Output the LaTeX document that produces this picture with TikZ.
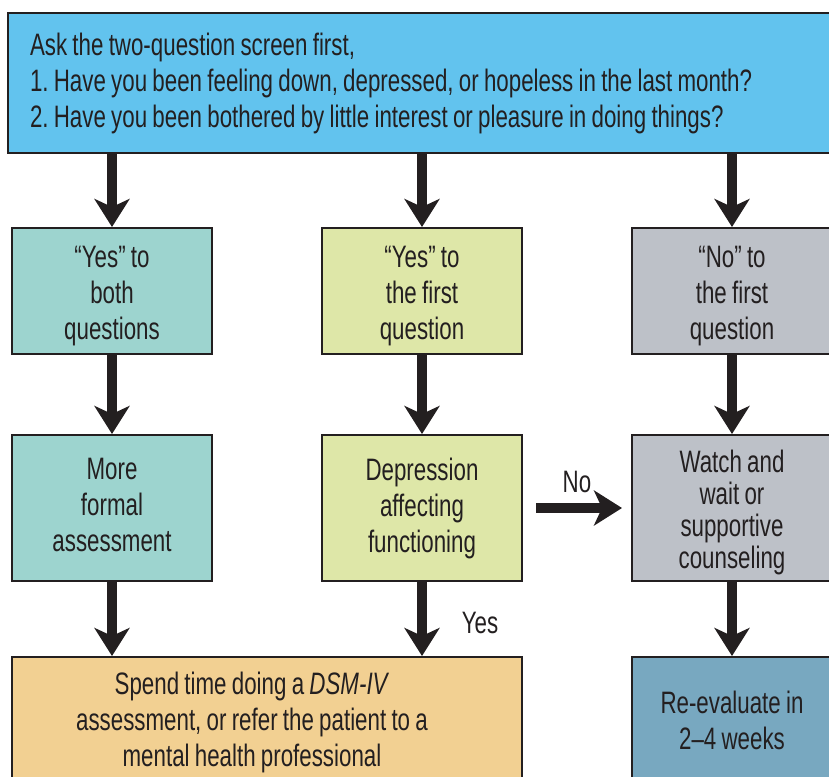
\documentclass[tikz,border=0pt]{standalone}
\usepackage{fontspec}
\setmainfont[FakeStretch=0.72, WordSpace=0.85]{Liberation Sans}
\usetikzlibrary{arrows.meta}
\definecolor{screenblue}{RGB}{98,195,238}
\definecolor{bothteal}{RGB}{157,212,207}
\definecolor{firstgreen}{RGB}{222,231,168}
\definecolor{nogrey}{RGB}{189,193,200}
\definecolor{dsmorange}{RGB}{242,208,146}
\definecolor{reevalblue}{RGB}{120,168,192}
\definecolor{inkc}{RGB}{35,31,32}
\newcommand{\padtop}{\rule{0pt}{16pt}}
\newcommand{\padbot}{\rule[-3pt]{0pt}{0pt}}
\frenchspacing
\begin{document}
\begin{tikzpicture}[x=0.5pt,y=-0.5pt,
  box/.style={draw=inkc, line width=1pt, minimum width=100pt, inner sep=0pt, align=center, text=inkc, font=\fontsize{15.5}{18}\selectfont},
  flow/.style={draw=inkc, line width=5pt, -{Stealth[length=14pt,width=17.5pt,inset=4pt]}},
  lbl/.style={text=inkc, font=\fontsize{15.5}{18}\selectfont}]
\useasboundingbox (0,0) rectangle (829,776);
\clip (0,0) rectangle (829,776);
% screening questions
\node[box, fill=screenblue, minimum width=416pt, minimum height=70pt, text width=394pt, align=flush left] (screen) at (424,83) {Ask the two-question screen first,\\1. Have you been feeling down, depressed, or hopeless in the last month?\\2. Have you been bothered by little interest or pleasure in doing things?};
% answers
\node[box, fill=bothteal, minimum height=63pt] (yesboth) at (112,291) {\padtop``Yes'' to\\both\\questions};
\node[box, fill=firstgreen, minimum height=63pt] (yesfirst) at (422,291) {\padtop``Yes'' to\\the first\\question};
\node[box, fill=nogrey, minimum height=63pt] (nofirst) at (732,291) {\padtop``No'' to\\the first\\question};
\draw[flow] (screen.south -| yesboth.north) -- (yesboth);
\draw[flow] (screen.south -| yesfirst.north) -- (yesfirst);
\draw[flow] (screen.south -| nofirst.north) -- (nofirst);
% next step
\node[box, fill=bothteal, minimum height=73pt] (formal) at (112,508) {More\\formal\\assessment\padbot};
\node[box, fill=firstgreen, minimum height=73pt] (affect) at (422,508) {Depression\\affecting\\functioning};
\node[box, fill=nogrey, minimum height=73pt, font=\fontsize{15.5}{16}\selectfont] (watch) at (732,508) {\padtop Watch and\\wait or\\supportive\\counseling};
\draw[flow] (yesboth) -- (formal);
\draw[flow] (yesfirst) -- (affect);
\draw[flow] (nofirst) -- (watch);
\draw[flow, shorten <=6.5pt, shorten >=4.5pt] (affect) -- (watch);
\node[lbl] (no) at (577,482) {No};
% outcome
\node[box, fill=dsmorange, minimum width=255pt, minimum height=65pt, execute at begin node={\hspace*{-15pt}}] (dsm) at (267,722) {Spend time doing a \textit{DSM-IV}\\assessment, or refer the patient to a\\mental health professional};
\node[box, fill=reevalblue, minimum height=63.5pt] (reeval) at (732,720.5) {Re-evaluate in\\2--4 weeks};
\draw[flow] (formal.south) -- (formal.south |- dsm.north);
\draw[flow] (affect.south) -- (affect.south |- dsm.north);
\draw[flow] (watch) -- (reeval);
\node[lbl] (yes) at (480,623) {Yes};
\end{tikzpicture}
\end{document}
